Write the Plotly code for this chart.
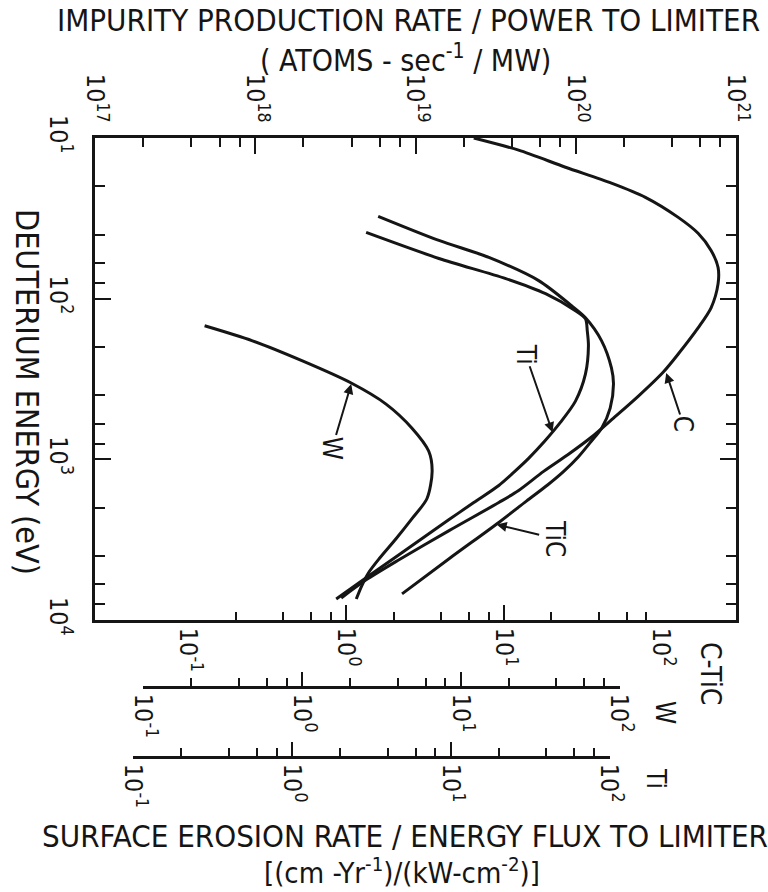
import math
import plotly.graph_objects as go

# ---------------- data ----------------
# Impurity production rate / power to limiter (atoms s^-1 MW^-1) vs deuterium energy (eV)
c_energy = [10, 11.9, 15.2, 19.1, 23.4, 31.2, 39.2, 50.1, 64.0, 80.6, 114, 152, 221, 286,
            404, 554, 729, 930, 1189, 1563, 1857, 2778, 4217, 5623, 7289]
c_rate = [2.31e19, 4.40e19, 8.63e19, 1.67e20, 2.72e20, 4.36e20, 5.80e20, 6.99e20, 7.73e20,
          7.73e20, 6.99e20, 5.80e20, 4.36e20, 3.52e20, 2.46e20, 1.72e20, 1.25e20, 9.01e19,
          6.30e19, 4.40e19, 3.31e19, 1.62e19, 7.89e18, 4.92e18, 3.44e18]

tic_energy = [30.7, 43.4, 55.4, 77.2, 110.6, 131.5, 183, 270, 340, 480, 640, 772, 963, 1193,
              1445, 1820, 2470, 4155, 6877]
tic_rate = [5.85e18, 1.40e19, 2.87e19, 5.87e19, 9.41e19, 1.15e20, 1.45e20, 1.67e20, 1.72e20,
            1.64e20, 1.45e20, 1.25e20, 1.04e20, 8.38e19, 6.67e19, 4.92e19, 3.31e19, 1.62e19,
            8.24e18]

ti_energy = [38.7, 56.2, 75.0, 93.1, 118.9, 133.4, 158.5, 196.6, 294, 434, 587, 772, 986,
             1205, 1454, 1857, 2371, 3925, 5464, 7396]
ti_rate = [4.92e18, 1.40e19, 3.66e19, 6.48e19, 9.96e19, 1.15e20, 1.18e20, 1.20e20, 1.15e20,
           9.96e19, 8.04e19, 6.39e19, 5.08e19, 4.10e19, 3.31e19, 2.31e19, 1.62e19, 7.89e18,
           4.92e18, 3.20e18]

w_energy = [147.5, 183, 244, 335, 453, 640, 891, 1189, 1753, 2338, 3119, 4155, 5012, 6040, 7396]
w_rate = [4.83e17, 9.61e17, 1.97e18, 3.97e18, 6.55e18, 9.51e18, 1.21e19, 1.27e19, 1.18e19,
          9.51e18, 7.56e18, 5.93e18, 5.14e18, 4.65e18, 4.27e18]

# axis ticks
rate_ticks = [1e17, 1e18, 1e19, 1e20, 1e21]
rate_labels = ["10<sup>17</sup>", "10<sup>18</sup>", "10<sup>19</sup>", "10<sup>20</sup>", "10<sup>21</sup>"]
energy_ticks = [10, 100, 1000, 10000]
energy_labels = ["10<sup>1</sup>", "10<sup>2</sup>", "10<sup>3</sup>", "10<sup>4</sup>"]
erosion_ticks = [0.1, 1, 10, 100]
erosion_labels = ["10<sup>-1</sup>", "10<sup>0</sup>", "10<sup>1</sup>", "10<sup>2</sup>"]
minor_mult = [2, 4, 6, 8]

# arrow-label tips (rate, energy)
labels = [("W", 3.97e18, 340, -19, 64),
          ("Ti", 7.16e19, 678, -27, -78),
          ("C", 3.67e20, 290, 17, 51),
          ("TiC", 3.21e19, 2548, 59, 14)]

# ---------------- figure ----------------
INK = "#151515"
FONT = "DejaVu Sans Condensed, Liberation Sans Narrow, Roboto Condensed, Liberation Sans, sans-serif"

W_, H_ = 768, 892
L, R, T, B = 95, 32, 138, 135
PW, PH = W_ - L - R, H_ - T - B


def P(xp, yp):
    return (xp - L) / PW, (H_ - B - yp) / PH


def minors(decades):
    return [m * d for d in decades for m in minor_mult]


fig = go.Figure()

for en, rt in [(c_energy, c_rate), (tic_energy, tic_rate), (ti_energy, ti_rate), (w_energy, w_rate)]:
    fig.add_trace(go.Scatter(x=rt, y=en, mode="lines",
                             line=dict(color=INK, width=3, shape="spline", smoothing=0.8),
                             hoverinfo="skip", showlegend=False))

# invisible anchors for the erosion scales
for ax in ["x2", "x3", "x4"]:
    fig.add_trace(go.Scatter(x=[0.1, 100], y=[10, 10], xaxis=ax, yaxis="y", mode="markers",
                             marker=dict(opacity=0), hoverinfo="skip", showlegend=False))

tickfont = dict(family=FONT, size=25, color=INK)
common = dict(type="log", showgrid=False, zeroline=False, showline=True, linecolor=INK, linewidth=2.5,
              tickcolor=INK, tickwidth=2, tickangle=90, tickfont=tickfont, automargin=False)


def erosion_axis(x0p, x1p, ticklen, **kw):
    return dict(**common, range=[-1.003, 2.003], side="bottom",
                domain=[(x0p - L) / PW, (x1p - L) / PW],
                ticks="inside", ticklen=ticklen,
                tickvals=erosion_ticks, ticktext=erosion_labels,
                minor=dict(ticks="inside", ticklen=8, tickwidth=2, tickcolor=INK,
                           tickvals=minors([0.1, 1, 10]), showgrid=False), **kw)


main_y0 = (H_ - B - 620) / PH

fig.update_layout(
    width=W_, height=H_, margin=dict(l=L, r=R, t=T, b=B),
    paper_bgcolor="white", plot_bgcolor="rgba(0,0,0,0)",
    xaxis=dict(**common, range=[17, 21], side="top", anchor="y", mirror=True,
               ticks="inside", ticklen=16,
               tickvals=rate_ticks, ticktext=rate_labels, ticklabelstandoff=4,
               minor=dict(ticks="inside", ticklen=9, tickwidth=2, tickcolor=INK,
                          tickvals=minors([1e17, 1e18, 1e19, 1e20]), showgrid=False)),
    yaxis=dict(**common, range=[4, 1], domain=[main_y0, 1], anchor="x", mirror="ticks",
               ticks="inside", ticklen=16,
               tickvals=energy_ticks, ticktext=energy_labels, ticklabelstandoff=12,
               minor=dict(ticks="inside", ticklen=10, tickwidth=2, tickcolor=INK,
                          tickvals=minors([10, 100, 1000]), showgrid=False)),
    xaxis2=erosion_axis(188, 662, 15, anchor="y"),
    xaxis3=erosion_axis(143, 620, 14, anchor="free", position=(H_ - B - 687) / PH),
    xaxis4=erosion_axis(133, 610, 14, anchor="free", position=0),
)

ann = []


def text_at(txt, xp, yp, size, angle=0):
    x, y = P(xp, yp)
    ann.append(dict(text=txt, x=x, y=y, xref="paper", yref="paper", showarrow=False,
                    xanchor="center", yanchor="middle", textangle=angle,
                    font=dict(family=FONT, size=size, color=INK)))


text_at("IMPURITY PRODUCTION RATE / POWER TO LIMITER", 408, 20, 31)
text_at("( ATOMS - sec<sup>-1</sup> / MW)", 405, 58, 30)
text_at("SURFACE EROSION RATE / ENERGY FLUX TO LIMITER", 405, 836, 31)
text_at("[(cm -Yr<sup>-1</sup>)/(kW-cm<sup>-2</sup>)]", 402, 871, 29)
text_at("DEUTERIUM ENERGY (eV)", 27, 392, 32, 90)
text_at("C-TiC", 711, 673, 28, 90)
text_at("W", 665, 712, 26, 90)
text_at("Ti", 656, 778, 26, 90)

for name, rt, en, dx, dy in labels:
    ann.append(dict(text=name, x=math.log10(rt), y=math.log10(en), xref="x", yref="y",
                    showarrow=True, ax=dx, ay=dy, arrowhead=2, arrowsize=1, arrowwidth=2,
                    arrowcolor=INK, standoff=0, textangle=90,
                    font=dict(family=FONT, size=26, color=INK)))

fig.update_layout(annotations=ann)
fig.write_html("out.html")
